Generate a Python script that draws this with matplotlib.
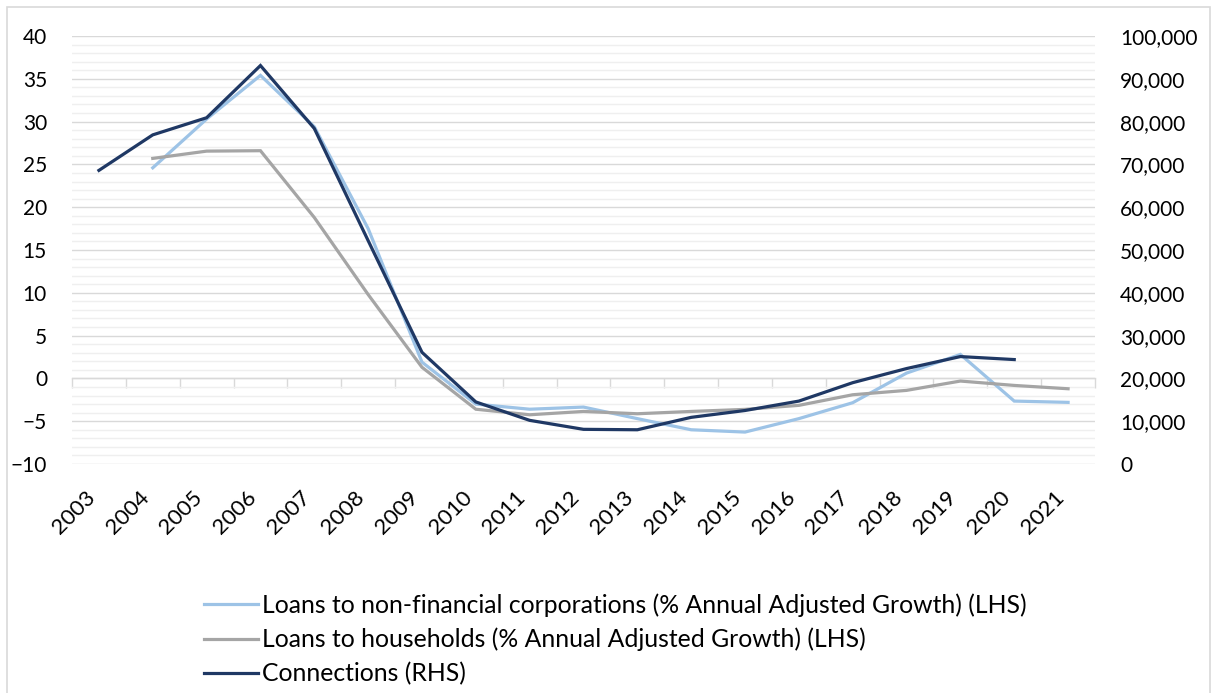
import numpy as np
import matplotlib
matplotlib.use("Agg")
import matplotlib.pyplot as plt
from matplotlib.lines import Line2D
from matplotlib.patches import Rectangle
from matplotlib.ticker import MultipleLocator, FuncFormatter

plt.rcParams['font.family'] = ['Lato', 'DejaVu Sans']

years = [str(y) for y in range(2003, 2022)]

# % annual adjusted growth (LHS)
loans_nfc = [np.nan, 24.6, 30.3, 35.4, 29.4, 17.5, 1.9, -3.0, -3.6, -3.35,
             -4.7, -6.0, -6.27, -4.7, -2.84, 0.62, 2.8, -2.65, -2.8]
loans_households = [np.nan, 25.7, 26.55, 26.6, 18.8, 9.8, 1.3, -3.6, -4.25, -3.86,
                    -4.13, -3.86, -3.62, -3.15, -1.91, -1.4, -0.31, -0.82, -1.21]
# connections (RHS)
connections = [68600, 76900, 80900, 93100, 78400, 52200, 26100, 14500, 10200, 8100,
               8000, 10900, 12500, 14700, 19000, 22300, 25100, 24400, np.nan]

c_nfc = '#9dc3e6'
c_hh = '#a5a5a5'
c_conn = '#1f3864'
grid_major = '#d9d9d9'
grid_minor = '#efefef'
fs = 15

fig = plt.figure(figsize=(12.15, 6.93), dpi=100)
ax = fig.add_axes([72/1215, 1-464/693, (1095-72)/1215, (464-36)/693])
ax2 = ax.twinx()

x = np.arange(len(years))
ax.plot(x, loans_nfc, color=c_nfc, lw=2.3, solid_joinstyle='miter')
ax.plot(x, loans_households, color=c_hh, lw=2.3, solid_joinstyle='miter')
ax2.plot(x, connections, color=c_conn, lw=2.3, solid_joinstyle='miter')

ax.set_xlim(-0.5, len(years)-0.5)
ax.set_ylim(-10, 40)
ax2.set_ylim(0, 100000)

ax.yaxis.set_major_locator(MultipleLocator(5))
ax.yaxis.set_minor_locator(MultipleLocator(1))
ax.grid(which='major', axis='y', color=grid_major, lw=1.0)
ax.grid(which='minor', axis='y', color=grid_minor, lw=1.0)
ax.set_axisbelow(True)

ax2.yaxis.set_major_locator(MultipleLocator(10000))
ax2.yaxis.set_major_formatter(FuncFormatter(lambda v, p: '{:,.0f}'.format(v)))

for a in (ax, ax2):
    for s in a.spines.values():
        s.set_visible(False)

ax.tick_params(axis='y', which='both', length=0, pad=18, labelsize=fs)
ax2.tick_params(axis='y', which='both', length=0, pad=18, labelsize=fs)

ax.set_xticks(x)
ax.set_xticklabels(years, rotation=45, ha='right', rotation_mode='default')
ax.tick_params(axis='x', length=0, pad=17, labelsize=16)

# category axis crossing at zero, with ticks between categories
sec = ax.secondary_xaxis(10/50)
sec.set_xticks(np.arange(-0.5, len(years), 1.0))
sec.set_xticklabels([])
sec.tick_params(axis='x', length=7, width=1, color=grid_major, direction='out')
sec.spines['bottom'].set_color(grid_major)
sec.spines['bottom'].set_linewidth(1.0)

handles = [Line2D([], [], color=c_nfc, lw=2.3),
           Line2D([], [], color=c_hh, lw=2.3),
           Line2D([], [], color=c_conn, lw=2.3)]
labels = ['Loans to non-financial corporations (% Annual Adjusted Growth) (LHS)',
          'Loans to households (% Annual Adjusted Growth) (LHS)',
          'Connections (RHS)']
fig.legend(handles, labels, loc='upper left', bbox_to_anchor=(204/1215, 1-593/693),
           frameon=False, fontsize=17.8, handlelength=2.2, handletextpad=0.15,
           labelspacing=0.45, borderaxespad=0, borderpad=0)

fig.patches.append(Rectangle((7/1215, -0.05), (1210-7)/1215, 1-7/693+0.05,
                             transform=fig.transFigure, fill=False,
                             edgecolor=grid_major, lw=1.2))

fig.savefig('out.png', dpi=100)
